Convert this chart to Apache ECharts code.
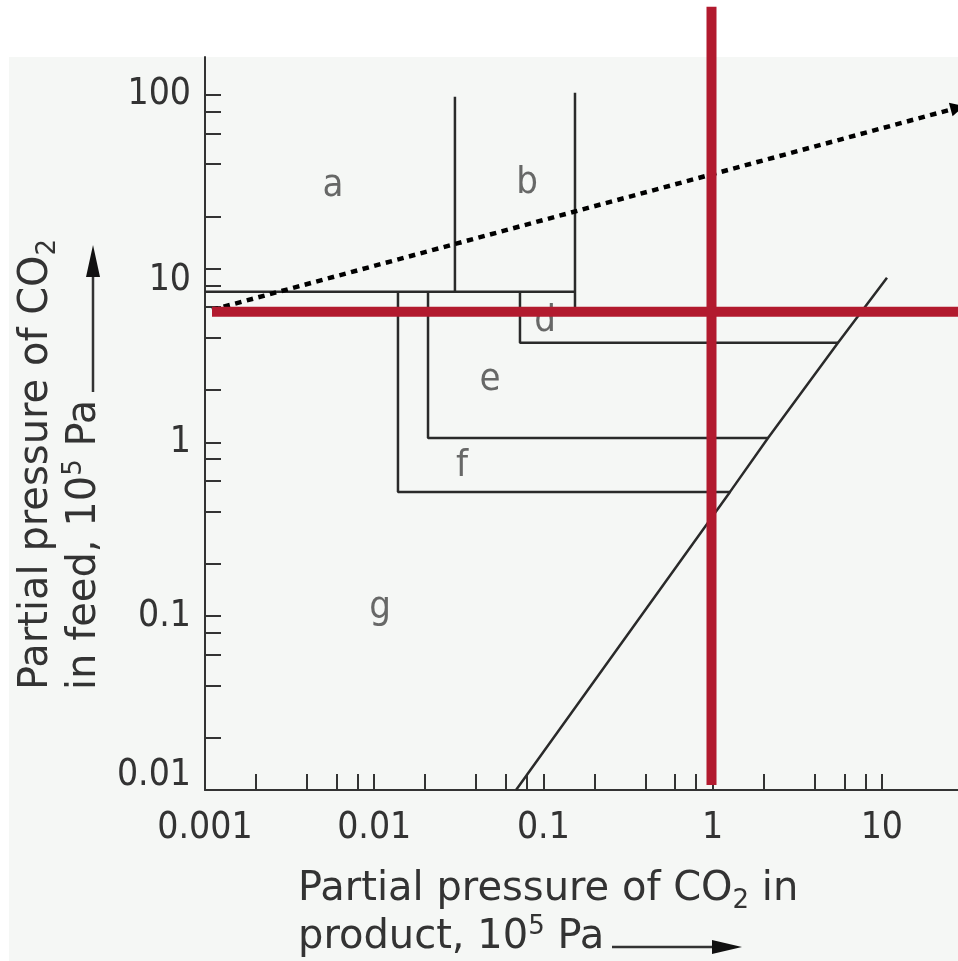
<!DOCTYPE html>
<html><head><meta charset="utf-8">
<script src="https://cdn.jsdelivr.net/npm/echarts@6/dist/echarts.min.js"></script>
<style>html,body{margin:0;padding:0;background:#fff}#c{width:958px;height:961px}</style>
</head><body><div id="c"></div>
<script>
// ---- axis ticks & labels (data values) ----
const xTickValues = [0.002,0.004,0.006,0.008,0.01,0.02,0.04,0.06,0.08,0.1,0.2,0.4,0.6,0.8,1,2,4,6,8,10];
const xLabelValues = [0.001,0.01,0.1,1,10];
const yTickValues = [0.02,0.04,0.06,0.08,0.1,0.2,0.4,0.6,0.8,1,2,4,6,8,10,20,40,60,80,100];
const yLabelValues = [0.01,0.1,1,10,100];
const xRange = [0.001, 28.2];
const yRange = [0.01, 165];

// ---- region boundaries (x = product, y = feed) ----
const boundaryTop = [[0.001,7.35],[0.1537,7.35]];
const boundaryAB  = [[0.030,97.4],[0.030,7.35]];
const boundaryB   = [[0.1537,102.7],[0.1537,6.0]];
const boxF = [[0.01382,7.35],[0.01382,0.519],[1.267,0.519]];
const boxE = [[0.0208,7.35],[0.0208,1.06],[2.125,1.06]];
const boxD = [[0.0727,7.35],[0.0727,3.74],[5.51,3.74]];
const diagonal = [[0.0689,0.01],[1.267,0.519],[2.125,1.06],[5.51,3.74],[10.73,8.85]];
const dottedTrend = [[0.0011,5.79],[28.0,84.2]];
const redVertical = [[0.985,321],[0.985,0.0107]];
const redHorizontal = [[0.0011,5.64],[28.2,5.64]];
const regionNames = ['a','b','d','e','f','g'];
const regionX = [0.00571,0.080,0.1022,0.0484,0.0330,0.01082];
const regionY = [29.9,31.2,5.0,2.29,0.732,0.1116];

const FONT = "'Liberation Sans Narrow','DejaVu Sans Condensed','Arial Narrow',sans-serif";
const TFONT = "'DejaVu Sans',sans-serif";
const INK = '#333';

function nearest(list, v){
  let best = list[0], bd = Infinity;
  list.forEach(function(c){ const d = Math.abs(Math.log10(c) - Math.log10(v)); if (d < bd){ bd = d; best = c; } });
  return best;
}

const chart = echarts.init(document.getElementById('c'), null, {renderer:'canvas'});

function blackLine(data){
  return {type:'line', data:data, symbol:'none', showSymbol:false, silent:true, z:3,
    lineStyle:{color:'#2a2a2a', width:2.5}, animation:false};
}

const option = {
  backgroundColor:'#ffffff',
  animation:false,
  grid:{left:205, right:0, top:57, bottom:171, containLabel:false, outerBoundsMode:'none'},
  xAxis:{
    type:'log', logBase:10, min:xRange[0], max:xRange[1],
    axisLine:{show:true, onZero:false, lineStyle:{color:INK, width:2}},
    axisTick:{show:true, inside:true, length:16, lineStyle:{color:INK, width:2}, customValues:xTickValues},
    minorTick:{show:false},
    axisLabel:{show:true, customValues:xLabelValues, margin:20, fontSize:37, fontFamily:FONT, color:INK,
      formatter:function(v){ return String(nearest(xLabelValues, v)); }},
    splitLine:{show:false}
  },
  yAxis:{
    type:'log', logBase:10, min:yRange[0], max:yRange[1],
    axisLine:{show:true, onZero:false, lineStyle:{color:INK, width:2}},
    axisTick:{show:true, inside:true, length:16, lineStyle:{color:INK, width:2}, customValues:yTickValues},
    minorTick:{show:false},
    axisLabel:{show:true, customValues:yLabelValues, margin:14, fontSize:37, fontFamily:FONT, color:INK,
      formatter:function(v){
        const n = nearest(yLabelValues, v);
        if (n === 0.01) return '{up|0.01}';
        if (n === 10) return '{dn|10}';
        return '{n|' + String(n) + '}';
      },
      rich:{
        n:{fontSize:37, fontFamily:FONT, color:INK},
        up:{fontSize:37, fontFamily:FONT, color:INK, padding:[0,0,30,0]},
        dn:{fontSize:37, fontFamily:FONT, color:INK, padding:[24,0,0,0]}
      }
    },
    splitLine:{show:false}
  },
  graphic:[
    {type:'rect', z:-100, silent:true, shape:{x:9, y:57, width:949, height:904}, style:{fill:'#f5f7f5'}},
    // x-axis title
    {type:'text', x:298, y:890, silent:true,
      style:{text:'Partial pressure of CO{s|2} in', font:'40px ' + TFONT, fill:INK,
        textAlign:'left', align:'left', textVerticalAlign:'middle', verticalAlign:'middle', lineHeight:48,
        rich:{s:{fontSize:26, fontFamily:TFONT, fill:INK, verticalAlign:'bottom'}}}},
    {type:'text', x:298, y:938, silent:true,
      style:{text:'product, 10{p|5} Pa', font:'40px ' + TFONT, fill:INK,
        textAlign:'left', align:'left', textVerticalAlign:'middle', verticalAlign:'middle', lineHeight:48,
        rich:{p:{fontSize:26, fontFamily:TFONT, fill:INK, verticalAlign:'top'}}}},
    {type:'line', silent:true, shape:{x1:612, y1:947, x2:716, y2:947}, style:{stroke:INK, lineWidth:2.5}},
    {type:'polygon', silent:true, shape:{points:[[742,947],[712,940],[712,954]]}, style:{fill:'#111'}},
    // y-axis title
    {type:'text', x:37, y:690, rotation:Math.PI/2, silent:true,
      style:{text:'Partial pressure of CO{s|2}', font:'40px ' + TFONT, fill:INK,
        textAlign:'left', align:'left', textVerticalAlign:'middle', verticalAlign:'middle', lineHeight:48,
        rich:{s:{fontSize:26, fontFamily:TFONT, fill:INK, verticalAlign:'bottom'}}}},
    {type:'text', x:85, y:690, rotation:Math.PI/2, silent:true,
      style:{text:'in feed, 10{p|5} Pa', font:'40px ' + TFONT, fill:INK,
        textAlign:'left', align:'left', textVerticalAlign:'middle', verticalAlign:'middle', lineHeight:48,
        rich:{p:{fontSize:26, fontFamily:TFONT, fill:INK, verticalAlign:'top'}}}},
    {type:'line', silent:true, shape:{x1:93, y1:392, x2:93, y2:272}, style:{stroke:INK, lineWidth:2.5}},
    {type:'polygon', silent:true, shape:{points:[[93,245],[86,277],[100,277]]}, style:{fill:'#111'}}
  ],
  series:[
    blackLine(boundaryTop), blackLine(boundaryAB), blackLine(boundaryB),
    blackLine(boxF), blackLine(boxE), blackLine(boxD), blackLine(diagonal),
    {type:'scatter', silent:true, z:2, symbolSize:1, itemStyle:{color:'rgba(0,0,0,0)'},
      data: regionNames.map(function(n,i){ return {name:n, value:[regionX[i], regionY[i]]}; }),
      label:{show:true, position:'inside', formatter:'{b}', fontSize:38, fontFamily:FONT, color:'#444'}},
    {type:'lines', coordinateSystem:'cartesian2d', silent:true, z:4, polyline:false,
      data:[{coords:dottedTrend}],
      symbol:['none','triangle'], symbolSize:[1,14],
      lineStyle:{color:'#000', width:4.5, type:[6.5,5.5], cap:'butt', opacity:1, curveness:0},
      itemStyle:{color:'#000'}},
    {type:'line', data:redVertical, symbol:'none', clip:false, silent:true, z:10,
      lineStyle:{color:'#b21a2e', width:10, cap:'butt'}},
    {type:'line', data:redHorizontal, symbol:'none', clip:false, silent:true, z:10,
      lineStyle:{color:'#b21a2e', width:10, cap:'butt'}}
  ]
};
chart.setOption(option);
</script>
</body></html>
